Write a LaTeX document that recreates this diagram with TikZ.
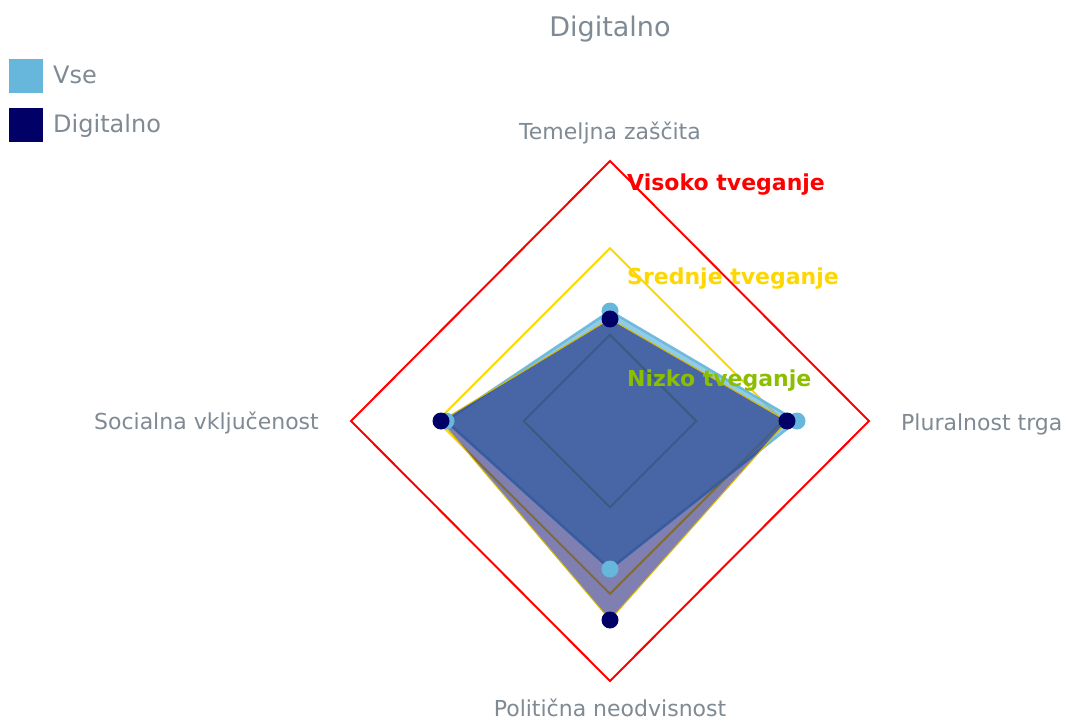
\documentclass[tikz,border=0pt]{standalone}
\usepackage{fontspec}
\setmainfont{DejaVu Sans}
\definecolor{vse}{HTML}{67B7DC}
\definecolor{dig}{HTML}{000066}
\definecolor{txt}{HTML}{7F8A94}
\definecolor{riskred}{HTML}{FF0000}
\definecolor{riskyel}{HTML}{FFD700}
\definecolor{riskgrn}{HTML}{8CBE00}
\definecolor{digedge}{HTML}{D9B800}
\tikzset{
  axlabel/.style={text=txt, inner sep=0pt, font=\fontsize{22}{26}\selectfont},
  risklabel/.style={inner sep=0pt, anchor=base west, font=\fontsize{22}{26}\selectfont\bfseries},
  legtext/.style={text=txt, inner sep=0pt, anchor=base west, font=\fontsize{24}{28}\selectfont},
  vsedot/.style={circle, fill=vse, minimum size=17pt, inner sep=0pt},
  digdot/.style={circle, fill=dig, minimum size=17pt, inner sep=0pt},
  ring/.style={line width=2pt, line join=miter}
}
\begin{document}
\begin{tikzpicture}[x=1pt,y=-1pt]
\useasboundingbox[fill=white] (0,0) rectangle (1066,722);
% risk diamonds
\draw[ring, riskred] (610,161) -- (869,421) -- (610,681) -- (351,421) -- cycle;
\draw[ring, riskyel] (610,248.3) -- (782.7,421) -- (610,593.7) -- (437.3,421) -- cycle;
\draw[ring, riskgrn] (610,334.7) -- (696.3,421) -- (610,507.3) -- (523.7,421) -- cycle;
% data points
\coordinate (vT) at (610,311);
\coordinate (vR) at (797,421);
\coordinate (vB) at (610,569);
\coordinate (vL) at (446,421);
\coordinate (dT) at (610,319);
\coordinate (dR) at (787,421);
\coordinate (dB) at (610,620);
\coordinate (dL) at (441,421);
% Vse area
\fill[vse, opacity=0.72] (vT) -- (vR) -- (vB) -- (vL) -- cycle;
\draw[vse, line width=2.5pt, opacity=0.9, line join=round] (vT) -- (vR) -- (vB) -- (vL) -- cycle;
% Digitalno area
\fill[dig, opacity=0.5] (dT) -- (dR) -- (dB) -- (dL) -- cycle;
\draw[digedge, line width=1pt, line join=round] (dT) -- (dR) -- (dB) -- (dL) -- cycle;
% markers
\node[vsedot] (mvT) at (vT) {};
\node[vsedot] (mvR) at (vR) {};
\node[vsedot] (mvB) at (vB) {};
\node[vsedot] (mvL) at (vL) {};
\node[digdot] (mdT) at (dT) {};
\node[digdot] (mdR) at (dR) {};
\node[digdot] (mdB) at (dB) {};
\node[digdot] (mdL) at (dL) {};
% risk labels
\node[risklabel, text=riskred] (lvis) at (627,191) {Visoko tveganje};
\node[risklabel, text=riskyel] (lsre) at (627,284) {Srednje tveganje};
\node[risklabel, text=riskgrn] (lniz) at (627,386.5) {Nizko tveganje};
% axis labels
\node[axlabel, anchor=base] (atop) at (610,140) {Temeljna zaščita};
\node[axlabel, anchor=base west] (aright) at (901,430) {Pluralnost trga};
\node[axlabel, anchor=base east] (aleft) at (319,429) {Socialna vključenost};
\node[axlabel, anchor=base] (abot) at (610,716) {Politična neodvisnost};
% title
\node[text=txt, inner sep=0pt, anchor=base, font=\fontsize{27}{32}\selectfont] (title) at (610,37) {Digitalno};
% legend
\node[fill=vse, minimum size=34pt, inner sep=0pt, anchor=north west] (legvse) at (9,59) {};
\node[fill=dig, minimum size=34pt, inner sep=0pt, anchor=north west] (legdig) at (9,108) {};
\node[legtext] (lt1) at (53,84) {Vse};
\node[legtext] (lt2) at (53,133) {Digitalno};
\end{tikzpicture}
\end{document}
